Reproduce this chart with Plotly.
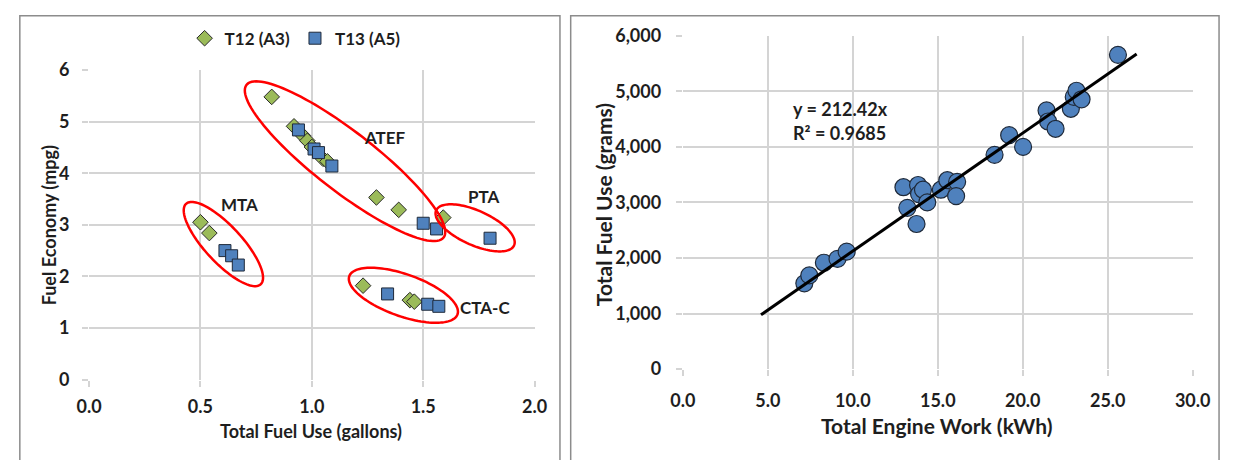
import numpy as np
import plotly.graph_objects as go

# ---------------- data ----------------
# Left chart: Fuel economy vs total fuel use
t12_x = [0.82, 0.92, 0.96, 0.98, 1.00, 1.05, 1.07, 1.29, 1.39, 1.59,
         0.50, 0.54, 1.23, 1.44, 1.46]
t12_y = [5.48, 4.91, 4.73, 4.63, 4.51, 4.28, 4.23, 3.53, 3.29, 3.14,
         3.05, 2.84, 1.82, 1.54, 1.51]
t13_x = [0.94, 1.01, 1.03, 1.09, 1.50, 1.56, 1.80,
         0.61, 0.64, 0.67, 1.34, 1.52, 1.57]
t13_y = [4.84, 4.47, 4.40, 4.14, 3.03, 2.92, 2.74,
         2.50, 2.40, 2.22, 1.66, 1.46, 1.42]

# group ellipses: label, center x, center y, semi-major px, semi-minor px, angle deg
grp_names = ["ATEF", "MTA", "PTA", "CTA-C"]
grp_cx = [1.149, 0.603, 1.733, 1.411]
grp_cy = [4.233, 2.627, 2.941, 1.634]
grp_a = [129, 57, 44, 59]
grp_b = [31, 19, 18, 22]
grp_ang = [38.5, 48, 25, 20]
lbl_x = [1.329, 0.677, 1.774, 1.776]
lbl_y = [4.695, 3.402, 3.557, 1.403]

# Right chart: total fuel use vs engine work
work_kwh = [7.15, 7.44, 8.30, 9.10, 9.64, 12.98, 13.21, 13.75, 13.84, 13.90,
            14.13, 14.38, 15.18, 15.56, 16.14, 16.08, 18.34, 19.20, 20.02,
            21.40, 21.49, 21.93, 22.83, 23.00, 23.16, 23.46, 25.60]
fuel_g = [1543, 1686, 1914, 1983, 2114, 3274, 2903, 2612, 3314, 3150,
          3229, 3000, 3229, 3400, 3371, 3114, 3857, 4211, 4000,
          4657, 4457, 4326, 4686, 4900, 5011, 4857, 5657]
trend_slope = 212.42
trend_x = [4.6, 26.7]

W, H = 1239, 460
# plot areas in pixels (left, top, right, bottom)
L_AREA = (78, 61, 535, 386)
R_AREA = (687, 25, 1210, 375)

def dom(area):
    l, t, r, b = area
    return [l / W, r / W], [1 - b / H, 1 - t / H]

lxd, lyd = dom(L_AREA)
rxd, ryd = dom(R_AREA)

FONT = "Lato"
TXT = "#1e1e1e"
GRID = "#d4d4d4"

fig = go.Figure()
fig.add_trace(go.Scatter(x=t12_x, y=t12_y, mode="markers", name="T12 (A3)",
                         marker=dict(symbol="diamond", size=12, color="#9bbb59",
                                     line=dict(color="#2a2a2a", width=1)),
                         xaxis="x", yaxis="y"))
fig.add_trace(go.Scatter(x=t13_x, y=t13_y, mode="markers", name="T13 (A5)",
                         marker=dict(symbol="square", size=12, color="#4f81bd",
                                     line=dict(color="#1f2a3a", width=1)),
                         xaxis="x", yaxis="y"))
fig.add_trace(go.Scatter(x=work_kwh, y=fuel_g, mode="markers", showlegend=False,
                         marker=dict(symbol="circle", size=17, color="#4f81bd",
                                     line=dict(color="#1f2a3a", width=1.2)),
                         xaxis="x2", yaxis="y2"))
fig.add_trace(go.Scatter(x=trend_x, y=[trend_slope * v for v in trend_x],
                         mode="lines", showlegend=False,
                         line=dict(color="black", width=3),
                         xaxis="x2", yaxis="y2"))

# ellipses (pixel-sized, drawn in data coordinates of the left chart)
px_per_x = (L_AREA[2] - L_AREA[0]) / 2.0
px_per_y = (L_AREA[3] - L_AREA[1]) / 6.0
t = np.linspace(0, 2 * np.pi, 120)
shapes = []
for cx, cy, a, b, ang in zip(grp_cx, grp_cy, grp_a, grp_b, grp_ang):
    th = np.radians(ang)
    dx = a * np.cos(th) * np.cos(t) - b * np.sin(th) * np.sin(t)
    dy = a * np.sin(th) * np.cos(t) + b * np.cos(th) * np.sin(t)
    xs = cx + dx / px_per_x
    ys = cy - dy / px_per_y
    path = "M " + " L ".join(f"{x:.4f},{y:.4f}" for x, y in zip(xs, ys)) + " Z"
    shapes.append(dict(type="path", path=path, xref="x", yref="y",
                       line=dict(color="#ff0000", width=2.5)))

# panel frames
for x0, x1 in [(7, 561), (572, 1237)]:
    shapes.append(dict(type="rect", xref="paper", yref="paper",
                       x0=x0 / W, x1=x1 / W, y0=-0.05, y1=1 - 4 / H,
                       line=dict(color="#8c8c8c", width=1.5), layer="below"))

annotations = []
for name, x, y in zip(grp_names, lbl_x, lbl_y):
    annotations.append(dict(x=x, y=y, xref="x", yref="y", text=name, showarrow=False,
                            font=dict(family=FONT, size=17, color=TXT, weight="bold")))
annotations.append(dict(x=6.37, y=4685, xref="x2", yref="y2", text="y = 212.42x",
                        showarrow=False, xanchor="left",
                        font=dict(family=FONT, size=18, color=TXT, weight="bold")))
annotations.append(dict(x=6.37, y=4257, xref="x2", yref="y2", text="R² = 0.9685",
                        showarrow=False, xanchor="left",
                        font=dict(family=FONT, size=18, color=TXT, weight="bold")))
# axis titles
def ann_px(x, y, text, size, angle=0):
    return dict(x=x / W, y=1 - y / H, xref="paper", yref="paper", text=text,
                showarrow=False, textangle=angle, xanchor="center", yanchor="middle",
                borderpad=0,
                font=dict(family=FONT, size=size, color=TXT, weight="bold"))
annotations.append(ann_px(306, 440, "Total Fuel Use (gallons)", 18))
annotations.append(ann_px(37, 224, "Fuel Economy (mpg)", 18, -90))
annotations.append(ann_px(948, 434, "Total Engine Work (kWh)", 21))
annotations.append(ann_px(606, 202, "Total Fuel Use (grams)", 21, -90))

tickfont = dict(family=FONT, size=18, color=TXT, weight="bold")
axis_common = dict(showgrid=True, gridcolor=GRID, gridwidth=2, zeroline=False,
                   showline=False, ticks="outside", ticklen=6, tickcolor=GRID,
                   tickwidth=2, tickfont=tickfont, fixedrange=True)

fig.update_layout(
    width=W, height=H, margin=dict(l=0, r=0, t=0, b=0),
    paper_bgcolor="white", plot_bgcolor="white",
    xaxis=dict(domain=lxd, range=[0, 2], dtick=0.5, tickformat=".1f",
               anchor="y", ticklabelstandoff=5, **axis_common),
    yaxis=dict(domain=lyd, range=[0, 6], dtick=1, anchor="x",
               ticklabelstandoff=9, **axis_common),
    xaxis2=dict(domain=rxd, range=[0, 30], dtick=5, tickformat=".1f",
                anchor="y2", ticklabelstandoff=9, **axis_common),
    yaxis2=dict(domain=ryd, range=[0, 6000], dtick=1000, tickformat=",d",
                anchor="x2", ticklabelstandoff=11, **axis_common),
    legend=dict(orientation="h", x=176 / W, y=1 - 28 / H, xanchor="left",
                yanchor="middle", font=dict(family=FONT, size=17, color=TXT, weight="bold"),
                bgcolor="rgba(0,0,0,0)", itemclick=False),
    shapes=shapes, annotations=annotations, showlegend=True,
)

fig.write_html("out.html")
